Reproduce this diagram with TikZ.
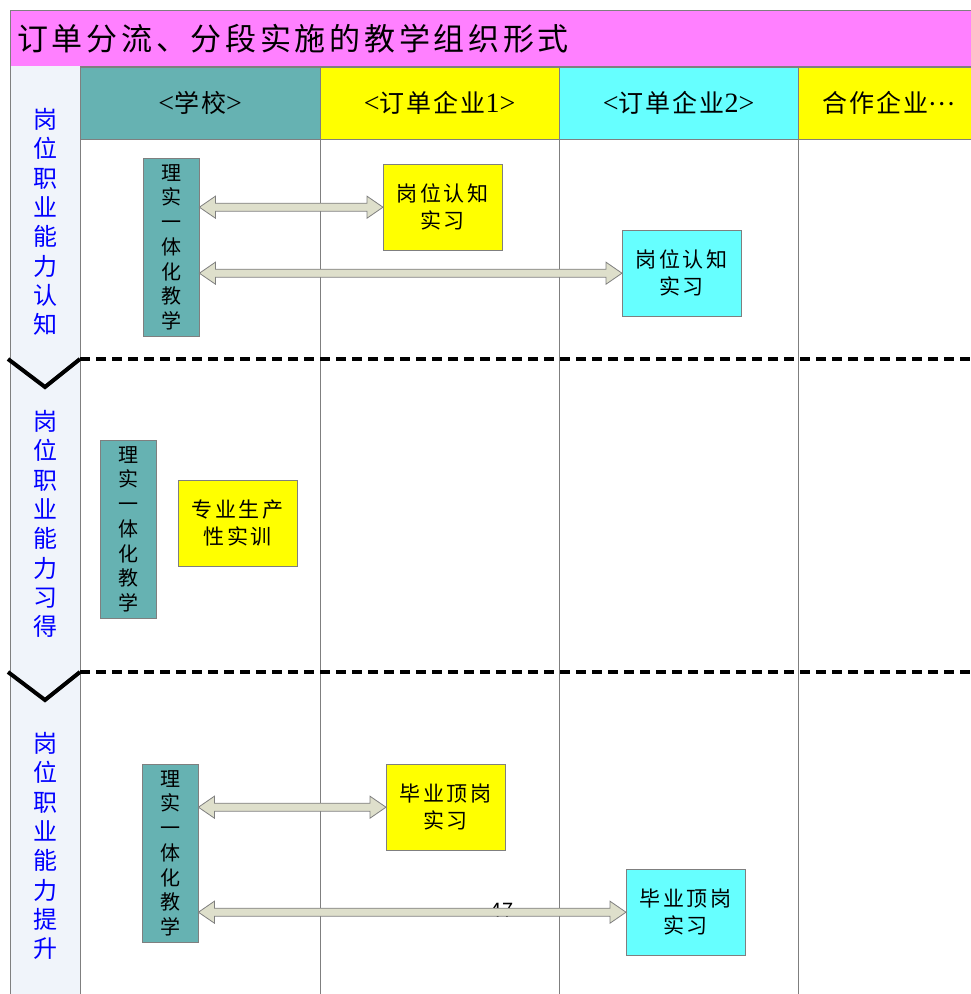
\documentclass[tikz,border=0pt]{standalone}
\usepackage{fontspec}
\setmainfont{Noto Sans CJK SC}
\newfontfamily\spacedcjk[LetterSpace=12]{Noto Sans CJK SC}
\newfontfamily\headcjk[LetterSpace=8]{Noto Sans CJK SC}
\newfontfamily\latinserif[Scale=1.12]{Liberation Serif}
\usetikzlibrary{calc}

\definecolor{titlepink}{HTML}{FF80FF}
\definecolor{schoolteal}{HTML}{66B2B2}
\definecolor{orderyellow}{HTML}{FFFF00}
\definecolor{ordercyan}{HTML}{66FFFF}
\definecolor{sidepale}{HTML}{F0F4FA}
\definecolor{arrowbeige}{HTML}{DEDFCB}
\definecolor{framegray}{HTML}{7F7F7F}

% fat double arrow from #1 to #2 (same height)
\newcommand{\twoway}[2]{%
  \draw[arrowbody] let \p1=(#1), \p2=(#2) in
    (\x1,\y1) -- (\x1+16pt,\y1+11pt) -- (\x1+16pt,\y1+4pt)
    -- (\x2-16pt,\y2+4pt) -- (\x2-16pt,\y2+11pt) -- (\x2,\y2)
    -- (\x2-16pt,\y2-11pt) -- (\x2-16pt,\y2-4pt)
    -- (\x1+16pt,\y1-4pt) -- (\x1+16pt,\y1-11pt) -- cycle;}

\begin{document}
\begin{tikzpicture}[x=1pt, y=-1pt,
    every node/.style={inner sep=0pt},
    titlebar/.style={fill=titlepink, draw=framegray, anchor=north west, minimum height=56pt,
        text width=947pt, align=left, font=\spacedcjk\fontsize{31}{36}\selectfont},
    headcell/.style={draw=framegray, anchor=north west, minimum height=72pt,
        font=\headcjk\fontsize{25}{30}\selectfont},
    sidetext/.style={text=blue, align=center, font=\fontsize{24}{29.3}\selectfont},
    tealbox/.style={fill=schoolteal, draw=framegray, anchor=north west, minimum width=56pt,
        minimum height=178pt, align=center, font=\fontsize{20}{24.7}\selectfont},
    taskbox/.style={draw=framegray, anchor=north west, minimum width=119pt,
        minimum height=86pt, align=center, font=\spacedcjk\fontsize{21}{27}\selectfont},
    arrowbody/.style={fill=arrowbeige, draw=framegray, line width=0.8pt},
    stagebreak/.style={line width=4pt, dash pattern=on 10pt off 6pt},
    chevron/.style={line width=4pt},
    lane/.style={draw=framegray, line width=0.8pt},
  ]
  \useasboundingbox (0,0) rectangle (971,994);

  % title and side column
  \node[titlebar, inner xsep=7pt] (title) at (10,10) {订单分流、分段实施的教学组织形式};
  \fill[sidepale] (10,66) rectangle (80,1000);
  \draw[lane] (10,66) -- (10,1000);

  % column heads
  \node[headcell, fill=schoolteal, minimum width=240pt] (school) at (80,67) {{\latinserif <}学校{\latinserif >}};
  \node[headcell, fill=orderyellow, minimum width=239pt] (firm1) at (320,67) {{\latinserif <}订单企业{\latinserif 1>}};
  \node[headcell, fill=ordercyan, minimum width=239pt] (firm2) at (559,67) {{\latinserif <}订单企业{\latinserif 2>}};
  \node[headcell, fill=orderyellow, minimum width=182pt] (partner) at (798,67) {合作企业\raisebox{0.3em}{…}};

  \draw[lane] (80,139) -- (975,139);
  \foreach \xx in {80,320,559,798}
    \draw[lane] (\xx,139) -- (\xx,1000);

  % stages
  \node[sidetext] (stage1) at (45,222) {岗\\位\\职\\业\\能\\力\\认\\知};
  \node[sidetext] (stage2) at (45,524) {岗\\位\\职\\业\\能\\力\\习\\得};
  \node[sidetext] (stage3) at (45,846) {岗\\位\\职\\业\\能\\力\\提\\升};

  \draw[stagebreak] (80,359) -- (975,359);
  \draw[stagebreak] (80,672) -- (975,672);
  \draw[chevron] (8,359) -- (45,387) -- (80,359);
  \draw[chevron] (8,672) -- (45,700) -- (80,672);

  % stage 1
  \node[tealbox] (teach1) at (143,158) {理\\实\\一\\体\\化\\教\\学};
  \node[taskbox, fill=orderyellow] (know1) at (383,164) {岗位认知\\实习};
  \node[taskbox, fill=ordercyan] (know2) at (622,230) {岗位认知\\实习};
  \twoway{teach1.east |- know1.west}{know1.west}
  \twoway{teach1.east |- know2.west}{know2.west}

  % stage 2
  \node[tealbox] (teach2) at (100,440) {理\\实\\一\\体\\化\\教\\学};
  \node[taskbox, fill=orderyellow] (train) at (178,480) {专业生产\\性实训};

  % stage 3
  \node[tealbox] (teach3) at (142,764) {理\\实\\一\\体\\化\\教\\学};
  \node[taskbox, fill=orderyellow] (post1) at (386,764) {毕业顶岗\\实习};
  \node[taskbox, fill=ordercyan] (post2) at (626,869) {毕业顶岗\\实习};
  \node[font=\fontsize{20}{24}\selectfont] (page) at (502,910) {47};
  \twoway{teach3.east |- post1.west}{post1.west}
  \twoway{teach3.east |- post2.west}{post2.west}
\end{tikzpicture}
\end{document}
